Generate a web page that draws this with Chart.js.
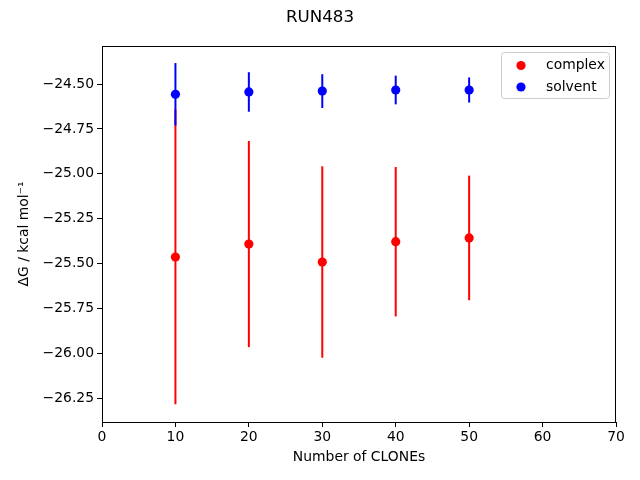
<!DOCTYPE html>
<html>
<head>
<meta charset="utf-8">
<script src="https://cdn.jsdelivr.net/npm/chart.js@4.4.0/dist/chart.umd.min.js"></script>
<style>
  html, body { margin: 0; padding: 0; background: #fff; }
  #wrap { width: 640px; height: 480px; }
</style>
</head>
<body>
<div id="wrap"><canvas id="myChart" width="640" height="480"></canvas></div>
<script>
// ######### data
// ###########################################

const cloneCounts = [10, 20, 30, 40, 50];
const complexMean = [-25.463, -25.391, -25.491, -25.378, -25.357];
const complexErr = [0.82, 0.574, 0.533, 0.416, 0.347];
const solventMean = [-24.557, -24.544, -24.539, -24.533, -24.533];
const solventErr = [0.174, 0.11, 0.094, 0.08, 0.07];
const xTicks = [0, 10, 20, 30, 40, 50, 60, 70];
const yTicks = [-26.25, -26.0, -25.75, -25.5, -25.25, -25.0, -24.75, -24.5];

const seriesNames = ['complex', 'solvent'];
const seriesColors = ['#ff0000', '#0000ff'];
const errs = [complexErr, solventErr];
const chartTitle = 'RUN483';

const FONT = '"DejaVu Sans", sans-serif';

function pts(means) {
    return cloneCounts.map((x, i) => ({ x: x, y: means[i] }));
}

// ######### error bars, drawn under each dataset's markers
// ###########################################

const errorBars = {
    id: 'errorBars',
    beforeDatasetDraw(chart, args) {
        const ctx = chart.ctx;
        const xs = chart.scales.x;
        const ys = chart.scales.y;
        const ds = chart.data.datasets[args.index];
        const e = errs[args.index];
        ctx.save();
        ctx.strokeStyle = ds.pointBackgroundColor;
        ctx.lineWidth = 2;
        ds.data.forEach((p, i) => {
            const px = xs.getPixelForValue(p.x);
            ctx.beginPath();
            ctx.moveTo(px, ys.getPixelForValue(p.y - e[i]));
            ctx.lineTo(px, ys.getPixelForValue(p.y + e[i]));
            ctx.stroke();
        });
        ctx.restore();
    }
};

// ######### frame, title + legend inside the axes
// ###########################################

const frameLegend = {
    id: 'frameLegend',
    afterDraw(chart) {
        const ctx = chart.ctx;
        const a = chart.chartArea;
        ctx.save();
        ctx.strokeStyle = '#000';
        ctx.lineWidth = 1;
        ctx.strokeRect(a.left + 0.5, a.top + 0.5, a.right - a.left - 1, a.bottom - a.top);

        // title, centred on the whole figure like a suptitle
        ctx.fillStyle = '#000';
        ctx.font = '16.7px ' + FONT;
        ctx.textAlign = 'center';
        ctx.textBaseline = 'alphabetic';
        ctx.fillText(chartTitle, chart.width / 2, 22);

        // legend box
        const w = 108, h = 46;
        const bx = a.right - 7 - w, by = a.top + 6;
        ctx.beginPath();
        ctx.roundRect(bx + 0.5, by + 0.5, w, h, 3);
        ctx.fillStyle = 'rgba(255,255,255,0.8)';
        ctx.fill();
        ctx.strokeStyle = '#cccccc';
        ctx.stroke();

        ctx.font = '13.9px ' + FONT;
        ctx.textBaseline = 'middle';
        ctx.textAlign = 'left';
        seriesNames.forEach((name, i) => {
            const cy = by + 13.5 + i * 21.5;
            ctx.beginPath();
            ctx.arc(bx + 20, cy, 4.6, 0, Math.PI * 2);
            ctx.fillStyle = seriesColors[i];
            ctx.fill();
            ctx.fillStyle = '#000';
            ctx.fillText(name, bx + 45, cy);
        });
        ctx.restore();
    }
};

const tickFmt = (v) => (v < 0 ? '\u2212' : '') + Math.abs(v).toFixed(2);

const ctx = document.getElementById('myChart').getContext('2d');
Chart.defaults.color = '#000';
Chart.defaults.font.family = FONT;

const chart = new Chart(ctx, {
    type: 'scatter',
    data: {
        datasets: [{
            label: seriesNames[0],
            data: pts(complexMean),
            pointBackgroundColor: seriesColors[0],
            pointBorderWidth: 0,
            pointRadius: 4.6,
            order: 1
        },
        {
            label: seriesNames[1],
            data: pts(solventMean),
            pointBackgroundColor: seriesColors[1],
            pointBorderWidth: 0,
            pointRadius: 4.6,
            order: 0
        }]
    },
    options: {
        responsive: false,
        animation: false,
        events: [],
        layout: { padding: { left: 0, right: 24, top: 46, bottom: 0 } },
        plugins: {
            legend: { display: false },
            tooltip: { enabled: false },
            title: { display: false }
        },
        scales: {
            x: {
                type: 'linear',
                min: 0,
                max: 70,
                afterFit: (s) => { s.height = 58; },
                afterBuildTicks: (s) => { s.ticks = xTicks.map(v => ({ value: v })); },
                ticks: { font: { size: 13.9 }, padding: 2, maxRotation: 0 },
                grid: { display: true, drawOnChartArea: false, tickLength: 5, tickColor: '#000', tickWidth: 1 },
                border: { color: '#000', width: 1 },
                title: {
                    display: true,
                    text: 'Number of CLONEs',
                    font: { size: 13.9 },
                    padding: { top: 0, bottom: 14 }
                }
            },
            y: {
                type: 'linear',
                min: -26.382,
                max: -24.288,
                afterFit: (s) => { s.width = 102; },
                afterBuildTicks: (s) => { s.ticks = yTicks.map(v => ({ value: v })); },
                ticks: { font: { size: 13.9 }, padding: 3, callback: tickFmt },
                grid: { display: true, drawOnChartArea: false, tickLength: 5, tickColor: '#000', tickWidth: 1 },
                border: { color: '#000', width: 1 },
                title: {
                    display: true,
                    text: 'ΔG / kcal mol⁻¹',
                    font: { size: 13.9 },
                    padding: { top: 16, bottom: 0 }
                }
            }
        }
    },
    plugins: [errorBars, frameLegend]
});
</script>
</body>
</html>
